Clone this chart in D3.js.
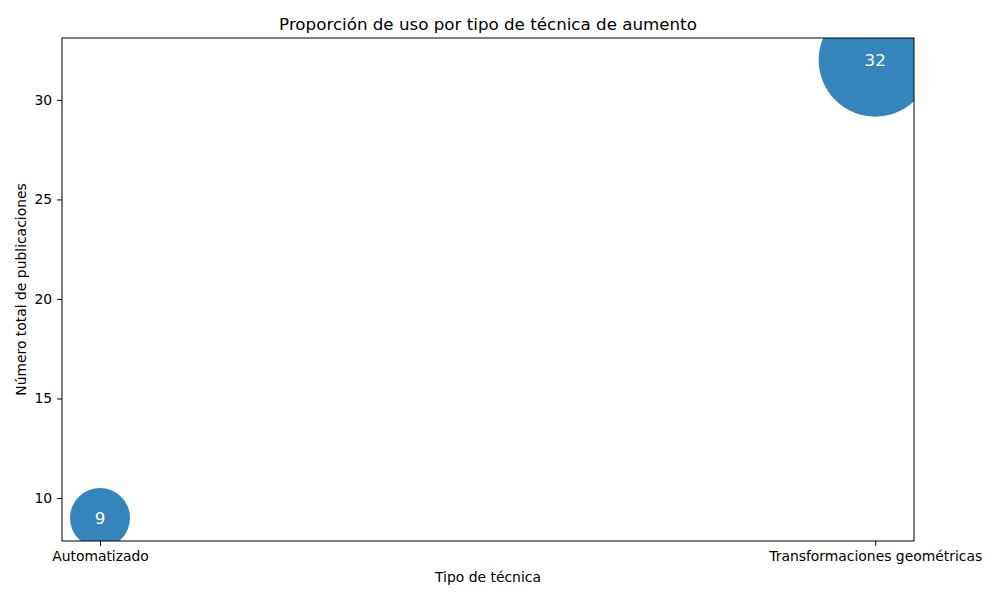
<!DOCTYPE html>
<html><head><meta charset="utf-8">
<script src="https://cdn.jsdelivr.net/npm/d3@7"></script>
<style>body{margin:0;background:#fff;font-family:"DejaVu Sans",sans-serif;}</style>
</head><body><svg id="c" width="1000" height="600"></svg>
<script>
const categories = ["Automatizado", "Transformaciones geométricas"];
const counts = [9, 32];
const yTicks = [10, 15, 20, 25, 30];

const svg = d3.select("#c");
const m = {l: 62, r: 914, t: 38, b: 541};
const x = d3.scaleLinear().domain([-0.049, 1.05]).range([m.l, m.r]);
const y = d3.scaleLinear().domain([7.84, 33.11]).range([m.b, m.t]);
const rad = v => 10 * Math.sqrt(v);

svg.append("defs").append("clipPath").attr("id", "clip")
  .append("rect").attr("x", m.l).attr("y", m.t).attr("width", m.r - m.l).attr("height", m.b - m.t);

const g = svg.append("g").attr("clip-path", "url(#clip)");
g.selectAll("circle").data(counts).join("circle")
  .attr("cx", (d, i) => x(i)).attr("cy", d => y(d)).attr("r", d => rad(d))
  .attr("fill", "#1f77b4").attr("fill-opacity", 0.9);
g.selectAll("text").data(counts).join("text")
  .attr("x", (d, i) => x(i)).attr("y", d => y(d)).attr("dy", "0.35em")
  .attr("text-anchor", "middle").attr("fill", "#fff").attr("font-size", "16.7px")
  .text(d => d);

// axes
const xAxis = d3.axisBottom(x).tickValues([0, 1]).tickFormat(i => categories[i]).tickSize(4.9).tickPadding(4.9);
const yAxis = d3.axisLeft(y).tickValues(yTicks).tickSize(4.9).tickPadding(4.9);
const gx = svg.append("g").attr("transform", `translate(0,${m.b})`).call(xAxis);
const gy = svg.append("g").attr("transform", `translate(${m.l},0)`).call(yAxis);
[gx, gy].forEach(a => {
  a.select(".domain").remove();
  a.selectAll("text").attr("font-size", "13.9px").attr("font-family", "DejaVu Sans").attr("fill", "#000");
  a.selectAll("line").attr("stroke", "#000").attr("stroke-width", 1);
});
svg.append("rect").attr("x", m.l).attr("y", m.t).attr("width", m.r - m.l).attr("height", m.b - m.t)
  .attr("fill", "none").attr("stroke", "#000").attr("stroke-width", 1);

svg.append("text").attr("x", (m.l + m.r) / 2).attr("y", 30).attr("text-anchor", "middle")
  .attr("font-size", "16.7px").text("Proporción de uso por tipo de técnica de aumento");
svg.append("text").attr("x", (m.l + m.r) / 2).attr("y", 582).attr("text-anchor", "middle")
  .attr("font-size", "13.9px").text("Tipo de técnica");
svg.append("text").attr("transform", `translate(26,${(m.t + m.b) / 2}) rotate(-90)`).attr("text-anchor", "middle")
  .attr("font-size", "13.9px").text("Número total de publicaciones");
</script></body></html>
